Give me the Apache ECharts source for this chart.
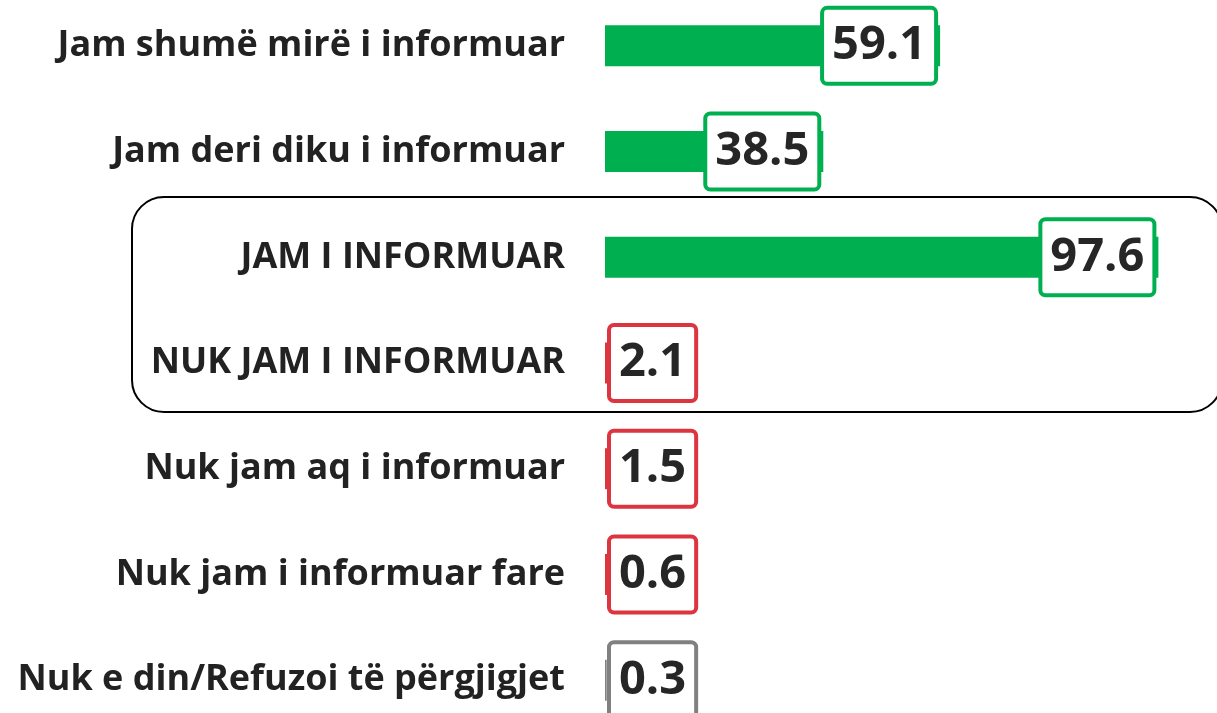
<!DOCTYPE html>
<html>
<head>
<meta charset="utf-8">
<script src="https://cdn.jsdelivr.net/npm/echarts@6/dist/echarts.min.js"></script>
<style>
  html, body { margin: 0; padding: 0; background: #fff; overflow: hidden; }
  /* chart is a bit taller than the window so the rows line up with the reference */
  #chart { width: 1217px; height: 740px; margin-top: -7px; }
</style>
</head>
<body>
<div id="chart"></div>
<script>
// categories top to bottom
const categories = [
    'Jam shumë mirë i informuar',
    'Jam deri diku i informuar',
    'JAM I INFORMUAR',
    'NUK JAM I INFORMUAR',
    'Nuk jam aq i informuar',
    'Nuk jam i informuar fare',
    'Nuk e din/Refuzoi të përgjigjet'
];
const values = [59.1, 38.5, 97.6, 2.1, 1.5, 0.6, 0.3];
const groups = ['pos', 'pos', 'pos', 'neg', 'neg', 'neg', 'dk'];

const colors = { pos: '#00B050', neg: '#DC3540', dk: '#808080' };

const chart = echarts.init(document.getElementById('chart'));

const seriesData = values.map((v, i) => {
    const c = colors[groups[i]];
    return {
        value: v,
        itemStyle: { color: c },
        label: {
            position: v > 10 ? 'insideRight' : 'insideLeft',
            borderColor: c
        }
    };
});

chart.setOption({
    animation: false,
    grid: { left: 605, right: 45, top: 0, bottom: 0, containLabel: false },
    xAxis: { type: 'value', min: 0, max: 100, show: false },
    yAxis: {
        type: 'category',
        data: categories,
        inverse: true,
        axisLine: { show: false },
        axisTick: { show: false },
        axisLabel: {
            margin: 40,
            fontFamily: 'Open Sans',
            fontWeight: 'bold',
            fontSize: 36,
            color: '#222'
        }
    },
    series: [{
        type: 'bar',
        barWidth: 41,
        data: seriesData,
        label: {
            show: true,
            distance: 6,
            fontFamily: 'Open Sans',
            fontWeight: 'bold',
            fontSize: 47,
            lineHeight: 56,
            color: '#262626',
            backgroundColor: '#fff',
            borderWidth: 4,
            borderRadius: 3,
            padding: [8, 8, 8, 8]
        }
    }],
    graphic: [{
        type: 'rect',
        z: 0,
        shape: { x: 132, y: 204, width: 1090, height: 215, r: 32 },
        style: { fill: 'none', stroke: '#000', lineWidth: 2 }
    }]
});
</script>
</body>
</html>
